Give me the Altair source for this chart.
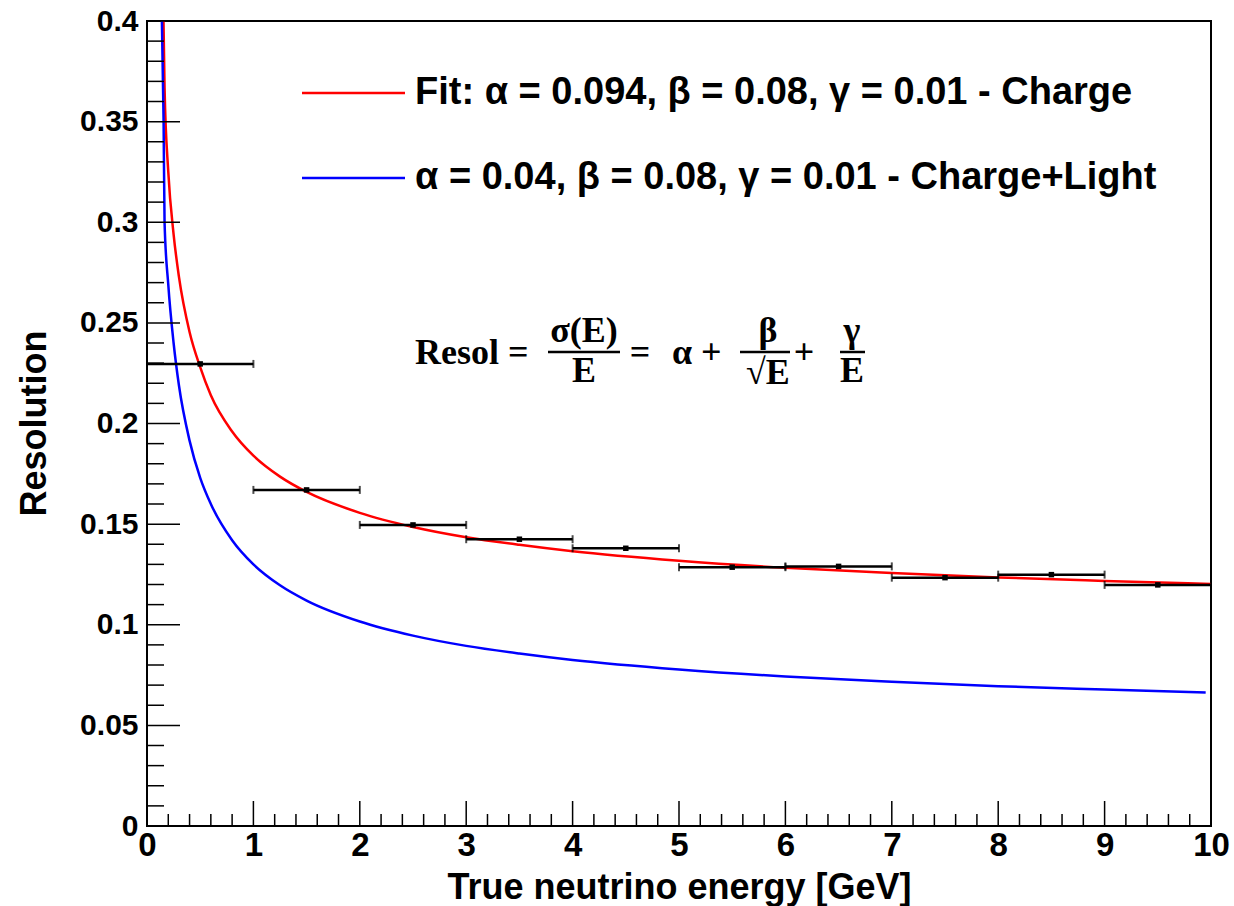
import altair as alt
import pandas as pd

# ---- measured points (bin centre, resolution, half bin width) ----
pt_energy = [0.5, 1.5, 2.5, 3.5, 4.5, 5.5, 6.5, 7.5, 8.5, 9.5]
pt_res = [0.2296, 0.167, 0.1496, 0.1425, 0.138, 0.1286, 0.129, 0.1234, 0.1249, 0.1198]
pt_half = [0.5, 0.5, 0.5, 0.5, 0.5, 0.5, 0.5, 0.5, 0.5, 0.5]

# ---- red curve (Charge) ----
red_energy = [0.155, 0.165, 0.2, 0.25, 0.3, 0.4, 0.5, 0.6, 0.8, 1.0, 1.25, 1.5, 2.0, 2.5,
              3.0, 3.5, 4.0, 5.0, 6.0, 7.0, 8.0, 9.0, 10.0]
red_res = [0.400, 0.367, 0.325, 0.294, 0.273, 0.2455, 0.228, 0.214, 0.196, 0.184, 0.1736,
           0.166, 0.1556, 0.1486, 0.1435, 0.1397, 0.1365, 0.1318, 0.1283, 0.1257, 0.1235,
           0.1218, 0.1203]

# ---- blue curve (Charge+Light) ----
blue_energy = [0.14, 0.156, 0.165, 0.2, 0.25, 0.3, 0.4, 0.5, 0.6, 0.8, 1.0, 1.25, 1.5, 2.0,
               2.5, 3.0, 3.5, 4.0, 5.0, 6.0, 7.0, 8.0, 9.0, 9.95]
blue_res = [0.400, 0.350, 0.300, 0.269, 0.240, 0.219, 0.1915, 0.173, 0.160, 0.142, 0.130,
            0.1196, 0.112, 0.1016, 0.0946, 0.0895, 0.0857, 0.0825, 0.0778, 0.0743, 0.0717,
            0.0695, 0.0678, 0.0663]

# ---- axis ticks ----
x_major = [0, 1, 2, 3, 4, 5, 6, 7, 8, 9, 10]
x_minor = [i / 5 for i in range(51) if i % 5 != 0]
y_major = [0, 0.05, 0.1, 0.15, 0.2, 0.25, 0.3, 0.35, 0.4]
y_minor = [i / 100 for i in range(41) if i % 5 != 0]

legend_red = "Fit: α = 0.094, β = 0.08, γ = 0.01 - Charge"
legend_blue = "α = 0.04, β = 0.08, γ = 0.01 - Charge+Light"

W, H = 1064, 805
SANS = "Liberation Sans"
SERIF = "Liberation Serif"

xs = alt.Scale(domain=[0, 10], nice=False, zero=False)
ys = alt.Scale(domain=[0, 0.4], nice=False, zero=False)

pts = pd.DataFrame({"E": pt_energy, "R": pt_res,
                    "lo": [e - h for e, h in zip(pt_energy, pt_half)],
                    "hi": [e + h for e, h in zip(pt_energy, pt_half)]})
red = pd.DataFrame({"E": red_energy, "R": red_res})
blue = pd.DataFrame({"E": blue_energy, "R": blue_res})

x_axis = alt.Axis(values=x_major, format="d", ticks=False, domain=False, grid=False,
                  labelFont=SANS, labelFontWeight="bold", labelFontSize=33, labelColor="black",
                  labelPadding=3, labelFlush=False, labelOverlap=False,
                  title="True neutrino energy [GeV]", titleFont=SANS, titleFontWeight="bold",
                  titleFontSize=36, titleColor="black", titleAlign="center",
                  titleX=532, titleY=72, titleBaseline="alphabetic")
y_axis = alt.Axis(values=y_major, format="~g", ticks=False, domain=False, grid=False,
                  labelFont=SANS, labelFontWeight="bold", labelFontSize=30, labelColor="black",
                  labelPadding=9, labelFlush=False, labelOverlap=False,
                  title="Resolution", titleFont=SANS, titleFontWeight="bold",
                  titleFontSize=36, titleColor="black", titleAngle=270, titleAlign="center",
                  titleX=-102, titleY=402, titleBaseline="alphabetic")

red_line = alt.Chart(red).mark_line(color="#ff0000", strokeWidth=2.5, interpolate="monotone").encode(
    x=alt.X("E:Q", scale=xs, axis=x_axis),
    y=alt.Y("R:Q", scale=ys, axis=y_axis),
)
blue_line = alt.Chart(blue).mark_line(color="#0000ff", strokeWidth=2.5, interpolate="monotone").encode(
    x=alt.X("E:Q", scale=xs), y=alt.Y("R:Q", scale=ys))

err = alt.Chart(pts).mark_rule(color="black", strokeWidth=2.5).encode(
    x=alt.X("lo:Q", scale=xs), x2="hi:Q", y=alt.Y("R:Q", scale=ys))
cap_lo = alt.Chart(pts).mark_tick(color="black", orient="vertical", size=8, thickness=2).encode(
    x=alt.X("lo:Q", scale=xs), y=alt.Y("R:Q", scale=ys))
cap_hi = alt.Chart(pts).mark_tick(color="black", orient="vertical", size=8, thickness=2).encode(
    x=alt.X("hi:Q", scale=xs), y=alt.Y("R:Q", scale=ys))
marks = alt.Chart(pts).mark_square(color="black", size=30, opacity=1).encode(
    x=alt.X("E:Q", scale=xs), y=alt.Y("R:Q", scale=ys))

# inward ROOT-style ticks
def xticks(vals, length):
    return alt.Chart(pd.DataFrame({"E": vals})).mark_rule(color="black", strokeWidth=1.5).encode(
        x=alt.X("E:Q", scale=xs), y=alt.value(H), y2=alt.value(H - length))

def yticks(vals, length):
    return alt.Chart(pd.DataFrame({"R": vals})).mark_rule(color="black", strokeWidth=1.5).encode(
        y=alt.Y("R:Q", scale=ys), x=alt.value(0), x2=alt.value(length))

one = pd.DataFrame({"k": [0]})

def rule(x1, x2, y, color, sw):
    return alt.Chart(one).mark_rule(color=color, strokeWidth=sw).encode(
        x=alt.value(x1), x2=alt.value(x2), y=alt.value(y))

def text(t, x, y, size, font, align="left", baseline="middle"):
    return alt.Chart(one).mark_text(text=t, font=font, fontWeight="bold", fontSize=size,
                                    color="black", align=align, baseline=baseline).encode(
        x=alt.value(x), y=alt.value(y))

legend = [
    rule(155, 258, 72, "#ff0000", 2.5),
    text(legend_red, 268, 72, 38, SANS),
    rule(155, 258, 157, "#0000ff", 2.5),
    text(legend_blue, 268, 157, 38, SANS),
]

formula = [
    text("Resol =", 268, 332, 36, SERIF),
    rule(401, 473, 331, "black", 2.5),
    text("σ(E)", 437, 321, 36, SERIF, "center", "alphabetic"),
    text("E", 437, 361, 36, SERIF, "center", "alphabetic"),
    text("=", 493, 332, 36, SERIF, "center"),
    text("α +", 525, 332, 36, SERIF),
    rule(593, 643, 331, "black", 2.5),
    text("β", 621, 321, 36, SERIF, "center", "alphabetic"),
    text("√E", 621, 363, 36, SERIF, "center", "alphabetic"),
    text("+", 657, 332, 36, SERIF, "center"),
    rule(693, 718, 331, "black", 2.5),
    text("γ", 705, 321, 36, SERIF, "center", "alphabetic"),
    text("E", 705, 361, 36, SERIF, "center", "alphabetic"),
]

chart = alt.layer(
    red_line, blue_line,
    xticks(x_major, 25), xticks(x_minor, 12),
    yticks(y_major, 33), yticks(y_minor, 17),
    err, cap_lo, cap_hi, marks,
    *legend, *formula,
).properties(
    width=W, height=H,
    autosize=alt.AutoSizeParams(type="none"),
    padding={"left": 147, "top": 21, "right": 23, "bottom": 80},
    background="white",
).configure_view(stroke="black", strokeWidth=2)

chart.save("out.html", embed_options={"renderer": "svg", "actions": False})
